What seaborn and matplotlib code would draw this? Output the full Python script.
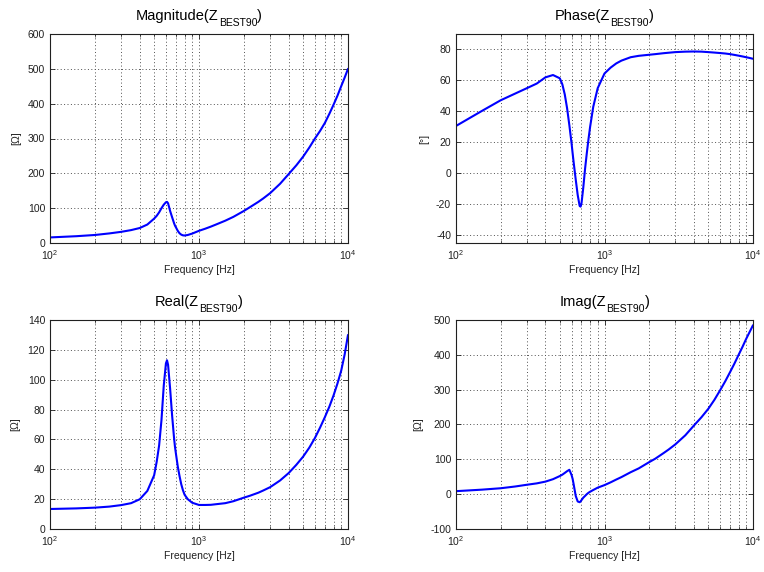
import matplotlib
matplotlib.use("Agg")
import matplotlib.pyplot as plt
from matplotlib.ticker import LogLocator, MultipleLocator, NullFormatter
import numpy as np
import pandas as pd
import seaborn as sns

# Impedance of BEST90 versus frequency
freq = [100, 150, 200, 250, 300, 350, 400, 450, 500, 520, 540, 560, 580, 600,
        610, 620, 640, 660, 680, 690, 700, 720, 740, 760, 780, 800, 840, 900,
        1000, 1100, 1200, 1300, 1500, 1700, 2000, 2200, 2500, 2700, 3000,
        3500, 4000, 4500, 5000, 5500, 6000, 6500, 7000, 7500, 8000, 8500,
        9000, 9500, 10000]

magnitude = [16, 19.5, 23, 27.5, 32, 37, 43, 53, 70, 78, 88, 100, 110, 117,
             118, 114, 92, 74, 57, 50, 45, 35, 28, 24, 22, 21.5, 23, 27,
             35, 41, 47, 53, 64, 75, 92, 103, 118, 128, 143,
             170, 198, 223, 248, 274, 300, 322, 345, 371, 397, 423,
             450, 475, 500]

phase = [30.6, 40.4, 47.2, 51.5, 55, 58, 62, 63.5, 61.4, 57.5, 51, 42, 31, 19.4,
         13, 7, -4, -14, -21, -21.5, -19.4, -9, 3, 13, 22, 30, 43, 55,
         64.5, 68.3, 71, 72.8, 75, 75.9, 76.6, 77, 77.6, 77.9, 78.3,
         78.6, 78.7, 78.6, 78.3, 78, 77.7, 77.4, 77, 76.5, 76, 75.5,
         75, 74.5, 74]

real = [13.4, 13.8, 14.3, 15, 16, 17.3, 19.9, 25.5, 36, 45, 56, 73, 96, 111,
        113, 110, 94, 76, 61, 55, 50.5, 42, 35.5, 30, 26, 23, 20, 17.6,
        16.1, 16.1, 16.2, 16.6, 17.3, 18.6, 21, 22.3, 24.3, 25.8, 28,
        32.5, 37.5, 43, 48.5, 54.5, 61, 68, 75, 82, 89.5, 97.5,
        106, 117, 130]

imag = [8.6, 13, 17, 22, 27, 31, 36, 43, 52, 56, 61, 66, 70, 55,
        44, 28, -5, -21, -23, -21, -17, -10, -5, 0, 4, 7, 12, 18.7,
        26, 34, 42, 49, 63, 74, 92, 102, 118, 128, 143,
        169, 197, 221, 245, 271, 298, 324, 350, 375, 400, 423,
        446, 466, 485]

titles = ["Magnitude", "Phase", "Real", "Imag"]
units = ["[\u03a9]", "[\u00b0]", "[\u03a9]", "[\u03a9]"]
ylims = [(0, 600), (-45, 90), (0, 140), (-100, 500)]
ysteps = [100, 20, 20, 100]

df = pd.DataFrame({"freq": freq, "Magnitude": magnitude, "Phase": phase,
                   "Real": real, "Imag": imag})

sns.set_style("ticks")
plt.rcParams.update({
    "font.family": ["Liberation Sans", "DejaVu Sans"],
    "font.size": 7.5,
    "axes.unicode_minus": False,
    "axes.linewidth": 0.8,
    "axes.edgecolor": "#202020",
    "text.color": "#202020",
    "axes.labelcolor": "#202020",
    "xtick.color": "#202020",
    "ytick.color": "#202020",
    "xtick.direction": "in",
    "ytick.direction": "in",
    "xtick.top": True,
    "ytick.right": True,
    "xtick.major.size": 3.5,
    "ytick.major.size": 3.5,
    "xtick.minor.size": 2,
    "xtick.major.width": 0.6,
    "ytick.major.width": 0.6,
    "xtick.minor.width": 0.5,
    "xtick.labelsize": 7.5,
    "ytick.labelsize": 7.5,
})

W, H = 764, 572
fig = plt.figure(figsize=(W / 100, H / 100), dpi=100)
renderer = fig.canvas.get_renderer()

rects_px = [(50, 34, 348, 243), (456, 34, 753, 243),
            (50, 320, 348, 529), (456, 320, 753, 529)]


def subscript_title(cx, base, name, sub):
    """Centred title 'name(Z_sub)' with a dropped subscript, in pixel units."""
    parts = [(name + "(Z", 10.5, 0), (sub, 7.5, 6), (")", 10.5, 0)]
    texts = [fig.text(0, 0, s, fontsize=fs, color="black", va="baseline", ha="left")
             for s, fs, _ in parts]
    widths = [t.get_window_extent(renderer).width for t in texts]
    x = cx - sum(widths) / 2
    for t, w, (_, _, drop) in zip(texts, widths, parts):
        t.set_position((x / W, 1 - (base + drop) / H))
        x += w


for name, unit, ylim, ystep, (x0, y0, x1, y1) in zip(titles, units, ylims, ysteps, rects_px):
    ax = fig.add_axes([x0 / W, 1 - y1 / H, (x1 - x0) / W, (y1 - y0) / H])
    sns.lineplot(data=df, x="freq", y=name, ax=ax, color="#0000ff",
                 linewidth=1.5, estimator=None, sort=False)
    ax.set_xscale("log")
    ax.set_xlim(100, 10000)
    ax.set_ylim(*ylim)
    ax.xaxis.set_major_locator(LogLocator(base=10))
    ax.xaxis.set_minor_locator(LogLocator(base=10, subs=np.arange(2, 10)))
    ax.xaxis.set_minor_formatter(NullFormatter())
    ax.yaxis.set_major_locator(MultipleLocator(ystep))
    ax.grid(True, which="major", axis="both", color="#505050",
            linestyle=(0, (1, 2.5)), linewidth=0.7)
    ax.grid(True, which="minor", axis="x", color="#505050",
            linestyle=(0, (1, 2.5)), linewidth=0.7)
    ax.set_axisbelow(True)
    ax.set_xlabel("Frequency [Hz]", fontsize=7.5, labelpad=2)
    ax.set_ylabel(unit, fontsize=7.5, labelpad=5)
    ax.tick_params(axis="x", which="major", pad=4)
    for s in ax.spines.values():
        s.set_visible(True)
    subscript_title((x0 + x1) / 2, y0 - 14, name, "BEST90")

fig.savefig("out.png", dpi=100)
